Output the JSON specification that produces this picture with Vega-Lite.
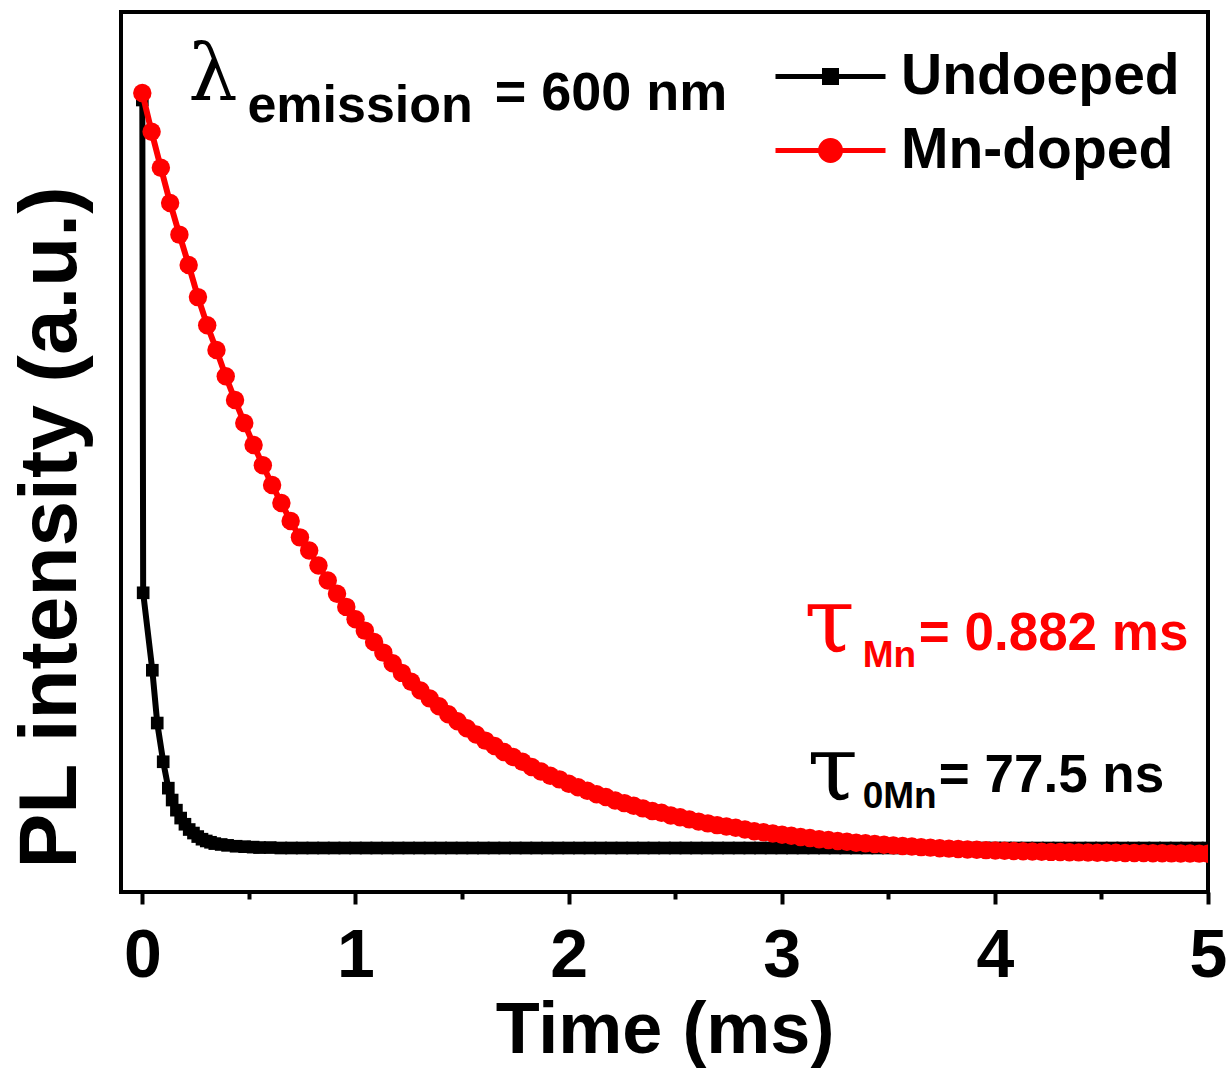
{
  "$schema": "https://vega.github.io/schema/vega-lite/v6.json",
  "width": 1087,
  "height": 880,
  "autosize": "none",
  "padding": {"left": 121, "top": 12, "right": 22, "bottom": 181},
  "background": "white",
  "config": {"view": {"stroke": "black", "strokeWidth": 4}, "font": "Liberation Sans"},
  "datasets": {
    "undoped": [
      {"t": 0, "I": 0.9, "s": "Undoeped"},
      {"t": 0.004, "I": 0.34, "s": "Undoeped"},
      {"t": 0.047, "I": 0.252, "s": "Undoeped"},
      {"t": 0.07, "I": 0.192, "s": "Undoeped"},
      {"t": 0.098, "I": 0.148, "s": "Undoeped"},
      {"t": 0.122, "I": 0.118, "s": "Undoeped"},
      {"t": 0.14, "I": 0.1045, "s": "Undoeped"},
      {"t": 0.16, "I": 0.093, "s": "Undoeped"},
      {"t": 0.18, "I": 0.084, "s": "Undoeped"},
      {"t": 0.2, "I": 0.077, "s": "Undoeped"},
      {"t": 0.22, "I": 0.071, "s": "Undoeped"},
      {"t": 0.24, "I": 0.067, "s": "Undoeped"},
      {"t": 0.26, "I": 0.063, "s": "Undoeped"},
      {"t": 0.28, "I": 0.06, "s": "Undoeped"},
      {"t": 0.3, "I": 0.058, "s": "Undoeped"},
      {"t": 0.32, "I": 0.0565, "s": "Undoeped"},
      {"t": 0.34, "I": 0.055, "s": "Undoeped"},
      {"t": 0.37, "I": 0.054, "s": "Undoeped"},
      {"t": 0.4, "I": 0.053, "s": "Undoeped"},
      {"t": 0.44, "I": 0.052, "s": "Undoeped"},
      {"t": 0.48, "I": 0.0515, "s": "Undoeped"},
      {"t": 0.52, "I": 0.051, "s": "Undoeped"},
      {"t": 0.55, "I": 0.0505, "s": "Undoeped"},
      {"t": 0.6, "I": 0.0505, "s": "Undoeped"},
      {"t": 0.65, "I": 0.05, "s": "Undoeped"},
      {"t": 0.7, "I": 0.05, "s": "Undoeped"},
      {"t": 0.75, "I": 0.05, "s": "Undoeped"},
      {"t": 0.8, "I": 0.05, "s": "Undoeped"},
      {"t": 0.85, "I": 0.05, "s": "Undoeped"},
      {"t": 0.9, "I": 0.05, "s": "Undoeped"},
      {"t": 0.95, "I": 0.05, "s": "Undoeped"},
      {"t": 1.0, "I": 0.05, "s": "Undoeped"},
      {"t": 1.05, "I": 0.05, "s": "Undoeped"},
      {"t": 1.1, "I": 0.05, "s": "Undoeped"},
      {"t": 1.15, "I": 0.05, "s": "Undoeped"},
      {"t": 1.2, "I": 0.05, "s": "Undoeped"},
      {"t": 1.25, "I": 0.05, "s": "Undoeped"},
      {"t": 1.3, "I": 0.05, "s": "Undoeped"},
      {"t": 1.35, "I": 0.05, "s": "Undoeped"},
      {"t": 1.4, "I": 0.05, "s": "Undoeped"},
      {"t": 1.45, "I": 0.05, "s": "Undoeped"},
      {"t": 1.5, "I": 0.05, "s": "Undoeped"},
      {"t": 1.55, "I": 0.05, "s": "Undoeped"},
      {"t": 1.6, "I": 0.05, "s": "Undoeped"},
      {"t": 1.65, "I": 0.05, "s": "Undoeped"},
      {"t": 1.7, "I": 0.05, "s": "Undoeped"},
      {"t": 1.75, "I": 0.05, "s": "Undoeped"},
      {"t": 1.8, "I": 0.05, "s": "Undoeped"},
      {"t": 1.85, "I": 0.05, "s": "Undoeped"},
      {"t": 1.9, "I": 0.05, "s": "Undoeped"},
      {"t": 1.95, "I": 0.05, "s": "Undoeped"},
      {"t": 2.0, "I": 0.05, "s": "Undoeped"},
      {"t": 2.05, "I": 0.05, "s": "Undoeped"},
      {"t": 2.1, "I": 0.05, "s": "Undoeped"},
      {"t": 2.15, "I": 0.05, "s": "Undoeped"},
      {"t": 2.2, "I": 0.05, "s": "Undoeped"},
      {"t": 2.25, "I": 0.05, "s": "Undoeped"},
      {"t": 2.3, "I": 0.05, "s": "Undoeped"},
      {"t": 2.35, "I": 0.05, "s": "Undoeped"},
      {"t": 2.4, "I": 0.05, "s": "Undoeped"},
      {"t": 2.45, "I": 0.05, "s": "Undoeped"},
      {"t": 2.5, "I": 0.05, "s": "Undoeped"},
      {"t": 2.55, "I": 0.05, "s": "Undoeped"},
      {"t": 2.6, "I": 0.05, "s": "Undoeped"},
      {"t": 2.65, "I": 0.05, "s": "Undoeped"},
      {"t": 2.7, "I": 0.05, "s": "Undoeped"},
      {"t": 2.75, "I": 0.05, "s": "Undoeped"},
      {"t": 2.8, "I": 0.05, "s": "Undoeped"},
      {"t": 2.85, "I": 0.05, "s": "Undoeped"},
      {"t": 2.9, "I": 0.05, "s": "Undoeped"},
      {"t": 2.95, "I": 0.05, "s": "Undoeped"},
      {"t": 3.0, "I": 0.05, "s": "Undoeped"},
      {"t": 3.05, "I": 0.05, "s": "Undoeped"},
      {"t": 3.1, "I": 0.05, "s": "Undoeped"},
      {"t": 3.15, "I": 0.05, "s": "Undoeped"},
      {"t": 3.2, "I": 0.05, "s": "Undoeped"},
      {"t": 3.25, "I": 0.05, "s": "Undoeped"},
      {"t": 3.3, "I": 0.05, "s": "Undoeped"},
      {"t": 3.35, "I": 0.05, "s": "Undoeped"},
      {"t": 3.4, "I": 0.05, "s": "Undoeped"},
      {"t": 3.45, "I": 0.05, "s": "Undoeped"},
      {"t": 3.5, "I": 0.05, "s": "Undoeped"},
      {"t": 3.55, "I": 0.05, "s": "Undoeped"},
      {"t": 3.6, "I": 0.05, "s": "Undoeped"},
      {"t": 3.65, "I": 0.05, "s": "Undoeped"},
      {"t": 3.7, "I": 0.05, "s": "Undoeped"},
      {"t": 3.75, "I": 0.05, "s": "Undoeped"},
      {"t": 3.8, "I": 0.05, "s": "Undoeped"},
      {"t": 3.85, "I": 0.05, "s": "Undoeped"},
      {"t": 3.9, "I": 0.05, "s": "Undoeped"},
      {"t": 3.95, "I": 0.05, "s": "Undoeped"},
      {"t": 4.0, "I": 0.05, "s": "Undoeped"},
      {"t": 4.05, "I": 0.05, "s": "Undoeped"},
      {"t": 4.1, "I": 0.05, "s": "Undoeped"},
      {"t": 4.15, "I": 0.05, "s": "Undoeped"},
      {"t": 4.2, "I": 0.05, "s": "Undoeped"},
      {"t": 4.25, "I": 0.05, "s": "Undoeped"},
      {"t": 4.3, "I": 0.05, "s": "Undoeped"},
      {"t": 4.35, "I": 0.05, "s": "Undoeped"},
      {"t": 4.4, "I": 0.05, "s": "Undoeped"},
      {"t": 4.45, "I": 0.05, "s": "Undoeped"},
      {"t": 4.5, "I": 0.05, "s": "Undoeped"},
      {"t": 4.55, "I": 0.05, "s": "Undoeped"},
      {"t": 4.6, "I": 0.05, "s": "Undoeped"},
      {"t": 4.65, "I": 0.05, "s": "Undoeped"},
      {"t": 4.7, "I": 0.05, "s": "Undoeped"},
      {"t": 4.75, "I": 0.05, "s": "Undoeped"},
      {"t": 4.8, "I": 0.05, "s": "Undoeped"},
      {"t": 4.85, "I": 0.05, "s": "Undoeped"},
      {"t": 4.9, "I": 0.05, "s": "Undoeped"},
      {"t": 4.95, "I": 0.05, "s": "Undoeped"},
      {"t": 5.0, "I": 0.05, "s": "Undoeped"}
    ],
    "mndoped": [
      {"t": 0, "I": 0.908, "s": "Mn-doped"},
      {"t": 0.0435, "I": 0.864, "s": "Mn-doped"},
      {"t": 0.087, "I": 0.823, "s": "Mn-doped"},
      {"t": 0.1305, "I": 0.783, "s": "Mn-doped"},
      {"t": 0.174, "I": 0.747, "s": "Mn-doped"},
      {"t": 0.2175, "I": 0.7125, "s": "Mn-doped"},
      {"t": 0.261, "I": 0.676, "s": "Mn-doped"},
      {"t": 0.3045, "I": 0.644, "s": "Mn-doped"},
      {"t": 0.348, "I": 0.616, "s": "Mn-doped"},
      {"t": 0.3915, "I": 0.586, "s": "Mn-doped"},
      {"t": 0.435, "I": 0.559, "s": "Mn-doped"},
      {"t": 0.4785, "I": 0.533, "s": "Mn-doped"},
      {"t": 0.522, "I": 0.508, "s": "Mn-doped"},
      {"t": 0.5655, "I": 0.485, "s": "Mn-doped"},
      {"t": 0.609, "I": 0.4625, "s": "Mn-doped"},
      {"t": 0.6525, "I": 0.442, "s": "Mn-doped"},
      {"t": 0.696, "I": 0.4216, "s": "Mn-doped"},
      {"t": 0.7395, "I": 0.403, "s": "Mn-doped"},
      {"t": 0.783, "I": 0.388, "s": "Mn-doped"},
      {"t": 0.8265, "I": 0.371, "s": "Mn-doped"},
      {"t": 0.87, "I": 0.354, "s": "Mn-doped"},
      {"t": 0.9135, "I": 0.339, "s": "Mn-doped"},
      {"t": 0.957, "I": 0.324, "s": "Mn-doped"},
      {"t": 1.0005, "I": 0.31, "s": "Mn-doped"},
      {"t": 1.044, "I": 0.297, "s": "Mn-doped"},
      {"t": 1.0875, "I": 0.284, "s": "Mn-doped"},
      {"t": 1.131, "I": 0.272, "s": "Mn-doped"},
      {"t": 1.1745, "I": 0.26, "s": "Mn-doped"},
      {"t": 1.218, "I": 0.249, "s": "Mn-doped"},
      {"t": 1.2615, "I": 0.239, "s": "Mn-doped"},
      {"t": 1.305, "I": 0.229, "s": "Mn-doped"},
      {"t": 1.3485, "I": 0.22, "s": "Mn-doped"},
      {"t": 1.392, "I": 0.211, "s": "Mn-doped"},
      {"t": 1.4355, "I": 0.202, "s": "Mn-doped"},
      {"t": 1.479, "I": 0.194, "s": "Mn-doped"},
      {"t": 1.5225, "I": 0.186, "s": "Mn-doped"},
      {"t": 1.566, "I": 0.179, "s": "Mn-doped"},
      {"t": 1.6095, "I": 0.172, "s": "Mn-doped"},
      {"t": 1.653, "I": 0.166, "s": "Mn-doped"},
      {"t": 1.6965, "I": 0.159, "s": "Mn-doped"},
      {"t": 1.74, "I": 0.1535, "s": "Mn-doped"},
      {"t": 1.7835, "I": 0.148, "s": "Mn-doped"},
      {"t": 1.827, "I": 0.142, "s": "Mn-doped"},
      {"t": 1.8705, "I": 0.137, "s": "Mn-doped"},
      {"t": 1.914, "I": 0.132, "s": "Mn-doped"},
      {"t": 1.9575, "I": 0.128, "s": "Mn-doped"},
      {"t": 2.001, "I": 0.123, "s": "Mn-doped"},
      {"t": 2.0445, "I": 0.119, "s": "Mn-doped"},
      {"t": 2.088, "I": 0.115, "s": "Mn-doped"},
      {"t": 2.1315, "I": 0.111, "s": "Mn-doped"},
      {"t": 2.175, "I": 0.108, "s": "Mn-doped"},
      {"t": 2.2185, "I": 0.104, "s": "Mn-doped"},
      {"t": 2.262, "I": 0.101, "s": "Mn-doped"},
      {"t": 2.3055, "I": 0.098, "s": "Mn-doped"},
      {"t": 2.349, "I": 0.095, "s": "Mn-doped"},
      {"t": 2.3925, "I": 0.092, "s": "Mn-doped"},
      {"t": 2.436, "I": 0.09, "s": "Mn-doped"},
      {"t": 2.4795, "I": 0.087, "s": "Mn-doped"},
      {"t": 2.523, "I": 0.085, "s": "Mn-doped"},
      {"t": 2.5665, "I": 0.0825, "s": "Mn-doped"},
      {"t": 2.61, "I": 0.08, "s": "Mn-doped"},
      {"t": 2.6535, "I": 0.078, "s": "Mn-doped"},
      {"t": 2.697, "I": 0.076, "s": "Mn-doped"},
      {"t": 2.7405, "I": 0.0745, "s": "Mn-doped"},
      {"t": 2.784, "I": 0.073, "s": "Mn-doped"},
      {"t": 2.8275, "I": 0.071, "s": "Mn-doped"},
      {"t": 2.871, "I": 0.069, "s": "Mn-doped"},
      {"t": 2.9145, "I": 0.068, "s": "Mn-doped"},
      {"t": 2.958, "I": 0.0665, "s": "Mn-doped"},
      {"t": 3.0015, "I": 0.065, "s": "Mn-doped"},
      {"t": 3.045, "I": 0.064, "s": "Mn-doped"},
      {"t": 3.0885, "I": 0.0626, "s": "Mn-doped"},
      {"t": 3.132, "I": 0.0613, "s": "Mn-doped"},
      {"t": 3.1755, "I": 0.06, "s": "Mn-doped"},
      {"t": 3.219, "I": 0.059, "s": "Mn-doped"},
      {"t": 3.2625, "I": 0.058, "s": "Mn-doped"},
      {"t": 3.306, "I": 0.057, "s": "Mn-doped"},
      {"t": 3.3495, "I": 0.056, "s": "Mn-doped"},
      {"t": 3.393, "I": 0.0554, "s": "Mn-doped"},
      {"t": 3.4365, "I": 0.0546, "s": "Mn-doped"},
      {"t": 3.48, "I": 0.0538, "s": "Mn-doped"},
      {"t": 3.5235, "I": 0.053, "s": "Mn-doped"},
      {"t": 3.567, "I": 0.0523, "s": "Mn-doped"},
      {"t": 3.6105, "I": 0.0516, "s": "Mn-doped"},
      {"t": 3.654, "I": 0.051, "s": "Mn-doped"},
      {"t": 3.6975, "I": 0.0504, "s": "Mn-doped"},
      {"t": 3.741, "I": 0.0498, "s": "Mn-doped"},
      {"t": 3.7845, "I": 0.0493, "s": "Mn-doped"},
      {"t": 3.828, "I": 0.0488, "s": "Mn-doped"},
      {"t": 3.8715, "I": 0.0484, "s": "Mn-doped"},
      {"t": 3.915, "I": 0.048, "s": "Mn-doped"},
      {"t": 3.9585, "I": 0.0476, "s": "Mn-doped"},
      {"t": 4.002, "I": 0.0472, "s": "Mn-doped"},
      {"t": 4.0455, "I": 0.0469, "s": "Mn-doped"},
      {"t": 4.089, "I": 0.0466, "s": "Mn-doped"},
      {"t": 4.1325, "I": 0.0463, "s": "Mn-doped"},
      {"t": 4.176, "I": 0.046, "s": "Mn-doped"},
      {"t": 4.2195, "I": 0.0458, "s": "Mn-doped"},
      {"t": 4.263, "I": 0.0456, "s": "Mn-doped"},
      {"t": 4.3065, "I": 0.0454, "s": "Mn-doped"},
      {"t": 4.35, "I": 0.0452, "s": "Mn-doped"},
      {"t": 4.3935, "I": 0.045, "s": "Mn-doped"},
      {"t": 4.437, "I": 0.0448, "s": "Mn-doped"},
      {"t": 4.4805, "I": 0.0447, "s": "Mn-doped"},
      {"t": 4.524, "I": 0.0446, "s": "Mn-doped"},
      {"t": 4.5675, "I": 0.0445, "s": "Mn-doped"},
      {"t": 4.611, "I": 0.0444, "s": "Mn-doped"},
      {"t": 4.6545, "I": 0.0443, "s": "Mn-doped"},
      {"t": 4.698, "I": 0.0442, "s": "Mn-doped"},
      {"t": 4.7415, "I": 0.0441, "s": "Mn-doped"},
      {"t": 4.785, "I": 0.044, "s": "Mn-doped"},
      {"t": 4.8285, "I": 0.0439, "s": "Mn-doped"},
      {"t": 4.872, "I": 0.0438, "s": "Mn-doped"},
      {"t": 4.9155, "I": 0.0437, "s": "Mn-doped"},
      {"t": 4.959, "I": 0.0436, "s": "Mn-doped"},
      {"t": 5.0, "I": 0.0435, "s": "Mn-doped"}
    ]
  },
  "layer": [
    {
      "data": {"name": "undoped"},
      "mark": {"type": "line", "strokeWidth": 6, "clip": true},
      "encoding": {
        "x": {"field": "t", "type": "quantitative", "scale": {"domain": [-0.1, 5], "nice": false, "zero": false},
          "axis": {"title": "Time (ms)", "values": [0, 0.5, 1, 1.5, 2, 2.5, 3, 3.5, 4, 4.5, 5],
            "labelExpr": "datum.value % 1 === 0 ? '' + datum.value : ''",
            "domain": false, "grid": false, "tickColor": "black", "tickWidth": 4,
            "tickSize": {"condition": {"test": "datum.value % 1 === 0", "value": 12}, "value": 7},
            "labelFont": "Liberation Sans", "labelFontWeight": "bold", "labelFontSize": 68, "labelColor": "black",
            "labelBaseline": "alphabetic", "labelPadding": 72, "labelFlush": false, "labelOverlap": false,
            "titleFont": "Liberation Sans", "titleFontWeight": "bold", "titleFontSize": 72, "titleColor": "black",
            "titleBaseline": "alphabetic", "titleY": 160}},
        "y": {"field": "I", "type": "quantitative", "scale": {"domain": [0, 1], "nice": false, "zero": false},
          "axis": {"title": "PL intensity (a.u.)", "ticks": false, "labels": false, "domain": false, "grid": false,
            "titleFont": "Liberation Sans", "titleFontWeight": "bold", "titleFontSize": 82, "titleColor": "black",
            "titleAngle": -90, "titleX": -71, "titleY": 515, "titleAlign": "center", "titleBaseline": "middle"}},
        "color": {"field": "s", "type": "nominal",
          "scale": {"domain": ["Undoeped", "Mn-doped"], "range": ["#000000", "#ff0000"]},
          "legend": {"title": null, "orient": "none", "legendX": 681, "legendY": 36, "padding": 0,
            "symbolSize": 400, "symbolStrokeWidth": 5, "labelFont": "Liberation Sans", "labelFontWeight": "bold",
            "labelFontSize": 57, "labelColor": "black", "labelOffset": 42, "labelLimit": 0, "rowPadding": 16,
            "encode": {"symbols": {"update": {
              "shape": {"signal": "datum.value === 'Undoeped' ? 'M-5.5,0H5.5M-0.6,-0.6H0.6V0.6H-0.6Z' : 'M-5.5,0H5.5M1,0A1,1,0,1,1,-1,0A1,1,0,1,1,1,0Z'"},
              "fill": {"scale": "color", "field": "value"},
              "stroke": {"scale": "color", "field": "value"},
              "strokeWidth": {"value": 5},
              "opacity": {"value": 1}}}}}}
      }
    },
    {
      "data": {"name": "undoped"},
      "mark": {"type": "point", "shape": "square", "filled": true, "size": 160, "opacity": 1, "clip": true},
      "encoding": {
        "x": {"field": "t", "type": "quantitative"},
        "y": {"field": "I", "type": "quantitative"},
        "color": {"field": "s", "type": "nominal"}
      }
    },
    {
      "data": {"name": "mndoped"},
      "mark": {"type": "line", "strokeWidth": 6, "clip": true},
      "encoding": {
        "x": {"field": "t", "type": "quantitative"},
        "y": {"field": "I", "type": "quantitative"},
        "color": {"field": "s", "type": "nominal"}
      }
    },
    {
      "data": {"name": "mndoped"},
      "mark": {"type": "point", "shape": "circle", "filled": true, "size": 340, "opacity": 1, "clip": true},
      "encoding": {
        "x": {"field": "t", "type": "quantitative"},
        "y": {"field": "I", "type": "quantitative"},
        "color": {"field": "s", "type": "nominal"}
      }
    },
    {
      "data": {"values": [{}]},
      "mark": {"type": "text", "text": "λ", "font": "DejaVu Serif", "fontSize": 78, "align": "left", "baseline": "alphabetic", "color": "black"},
      "encoding": {"x": {"datum": 0.215, "type": "quantitative"}, "y": {"datum": 0.9, "type": "quantitative"}}
    },
    {
      "data": {"values": [{}]},
      "mark": {"type": "text", "text": "emission", "font": "Liberation Sans", "fontWeight": "bold", "fontSize": 52, "align": "left", "baseline": "alphabetic", "color": "black"},
      "encoding": {"x": {"datum": 0.493, "type": "quantitative"}, "y": {"datum": 0.875, "type": "quantitative"}}
    },
    {
      "data": {"values": [{}]},
      "mark": {"type": "text", "text": "= 600 nm", "font": "Liberation Sans", "fontWeight": "bold", "fontSize": 54, "align": "left", "baseline": "alphabetic", "color": "black"},
      "encoding": {"x": {"datum": 1.653, "type": "quantitative"}, "y": {"datum": 0.889, "type": "quantitative"}}
    },
    {
      "data": {"values": [{}]},
      "mark": {"type": "text", "text": "τ", "font": "DejaVu Serif", "fontSize": 92, "align": "left", "baseline": "alphabetic", "color": "#ff0000"},
      "encoding": {"x": {"datum": 3.105, "type": "quantitative"}, "y": {"datum": 0.273, "type": "quantitative"}}
    },
    {
      "data": {"values": [{}]},
      "mark": {"type": "text", "text": "Mn", "font": "Liberation Sans", "fontWeight": "bold", "fontSize": 37, "align": "left", "baseline": "alphabetic", "color": "#ff0000"},
      "encoding": {"x": {"datum": 3.38, "type": "quantitative"}, "y": {"datum": 0.256, "type": "quantitative"}}
    },
    {
      "data": {"values": [{}]},
      "mark": {"type": "text", "text": "= 0.882 ms", "font": "Liberation Sans", "fontWeight": "bold", "fontSize": 53, "align": "left", "baseline": "alphabetic", "color": "#ff0000"},
      "encoding": {"x": {"datum": 3.643, "type": "quantitative"}, "y": {"datum": 0.275, "type": "quantitative"}}
    },
    {
      "data": {"values": [{}]},
      "mark": {"type": "text", "text": "τ", "font": "DejaVu Serif", "fontSize": 92, "align": "left", "baseline": "alphabetic", "color": "black"},
      "encoding": {"x": {"datum": 3.12, "type": "quantitative"}, "y": {"datum": 0.105, "type": "quantitative"}}
    },
    {
      "data": {"values": [{}]},
      "mark": {"type": "text", "text": "0Mn", "font": "Liberation Sans", "fontWeight": "bold", "fontSize": 37, "align": "left", "baseline": "alphabetic", "color": "black"},
      "encoding": {"x": {"datum": 3.38, "type": "quantitative"}, "y": {"datum": 0.0955, "type": "quantitative"}}
    },
    {
      "data": {"values": [{}]},
      "mark": {"type": "text", "text": "= 77.5 ns", "font": "Liberation Sans", "fontWeight": "bold", "fontSize": 53, "align": "left", "baseline": "alphabetic", "color": "black"},
      "encoding": {"x": {"datum": 3.737, "type": "quantitative"}, "y": {"datum": 0.114, "type": "quantitative"}}
    }
  ]
}
